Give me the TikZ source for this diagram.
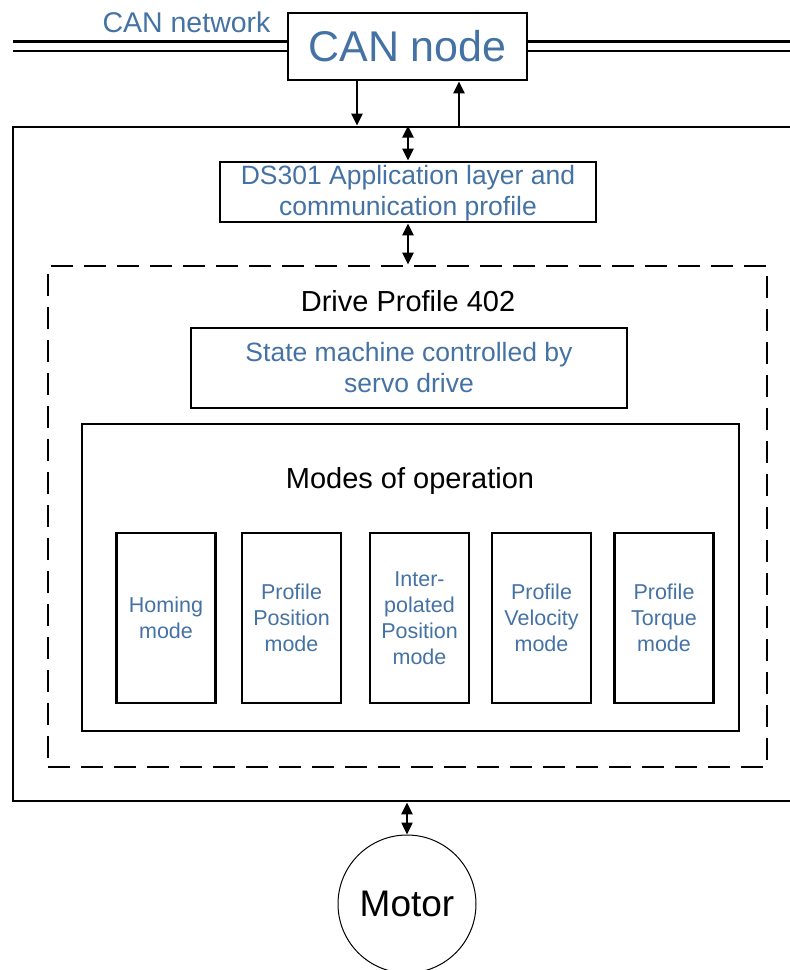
\documentclass[tikz,border=0pt]{standalone}
\usepackage{fontspec}
\setmainfont{Liberation Sans}
\usetikzlibrary{arrows.meta,positioning}
\definecolor{canblue}{RGB}{68,114,164}

\begin{document}
\begin{tikzpicture}[x=1pt, y=-1pt, >={Triangle[length=12pt,width=11pt]},
  box/.style={draw, line width=2.8pt, inner sep=0pt, align=center},
  modebox/.style={box, minimum width=99pt, minimum height=170pt, text=canblue,
    font=\fontsize{21.5}{26}\selectfont},
  bus/.style={line width=2.8pt},
  link/.style={<->, line width=2.4pt}]
\useasboundingbox (0,0) rectangle (790,970);
\clip (0,0) rectangle (790,970);

% CAN bus and CAN node
\node[box, minimum width=239pt, minimum height=67pt, text=canblue,
  font=\fontsize{43}{48}\selectfont] (can) at (407.5,46.5) {CAN node};
\node[anchor=east, text=canblue, font=\fontsize{28.5}{32}\selectfont] (net) at (274,22) {CAN network};
\draw[bus] ([yshift=5pt]can.west) -- ([yshift=5pt]can.west -| 13,0);
\draw[bus] ([yshift=-4.5pt]can.west) -- ([yshift=-4.5pt]can.west -| 13,0);
\draw[bus] ([yshift=5pt]can.east) -- ([yshift=5pt]can.east -| 800,0);
\draw[bus] ([yshift=-4.5pt]can.east) -- ([yshift=-4.5pt]can.east -| 800,0);

% servo drive
\node[box, minimum width=830pt, minimum height=674pt] (drive) at (428,464) {};
\draw[->, line width=2.4pt] ([xshift=-50.5pt]can.south) -- ([xshift=-50.5pt]can.south |- drive.north);
\draw[->, line width=2.4pt] ([xshift=51.5pt]can.south |- drive.north) -- ([xshift=51.5pt]can.south);

% DS301 layer
\node[box, minimum width=376pt, minimum height=60pt, text=canblue,
  font=\fontsize{26.5}{31}\selectfont] (ds) at (408,192)
  {\strut DS301 Application layer and\\communication profile};
\draw[link] (ds.north |- drive.north) -- (ds.north);

% Drive profile 402
\node[box, dash pattern=on 22pt off 11pt, minimum width=719pt, minimum height=501pt] (dp) at (407.5,516.5) {};
\draw[link] (ds.south) -- (ds.south |- dp.north);
\node[font=\fontsize{29}{33}\selectfont] (dptitle) at (408,301) {Drive Profile 402};
\node[box, minimum width=436pt, minimum height=80pt, text=canblue,
  font=\fontsize{26.5}{31}\selectfont] (state) at (409,368)
  {State machine controlled by\\servo drive};

% modes of operation
\node[box, minimum width=657pt, minimum height=307pt] (modes) at (410.5,577.5) {};
\node[font=\fontsize{29}{33}\selectfont] (modestitle) at (410,481) {Modes of operation};
\node[modebox] (homing) at (166,618) {Homing\\mode};
\node[modebox] (pp) at (291.5,618) {Profile\\Position\\mode};
\node[modebox] (ip) at (419.5,618) {Inter-\\polated\\Position\\mode};
\node[modebox] (pv) at (541.5,618) {Profile\\Velocity\\mode};
\node[modebox] (pt) at (664,618) {Profile\\Torque\\mode};

% motor
\node[circle, draw, line width=1pt, minimum size=138pt,
  font=\fontsize{37}{41}\selectfont] (motor) at (407,904) {Motor};
\draw[link] (motor.north |- drive.south) -- (motor.north);
\end{tikzpicture}
\end{document}
